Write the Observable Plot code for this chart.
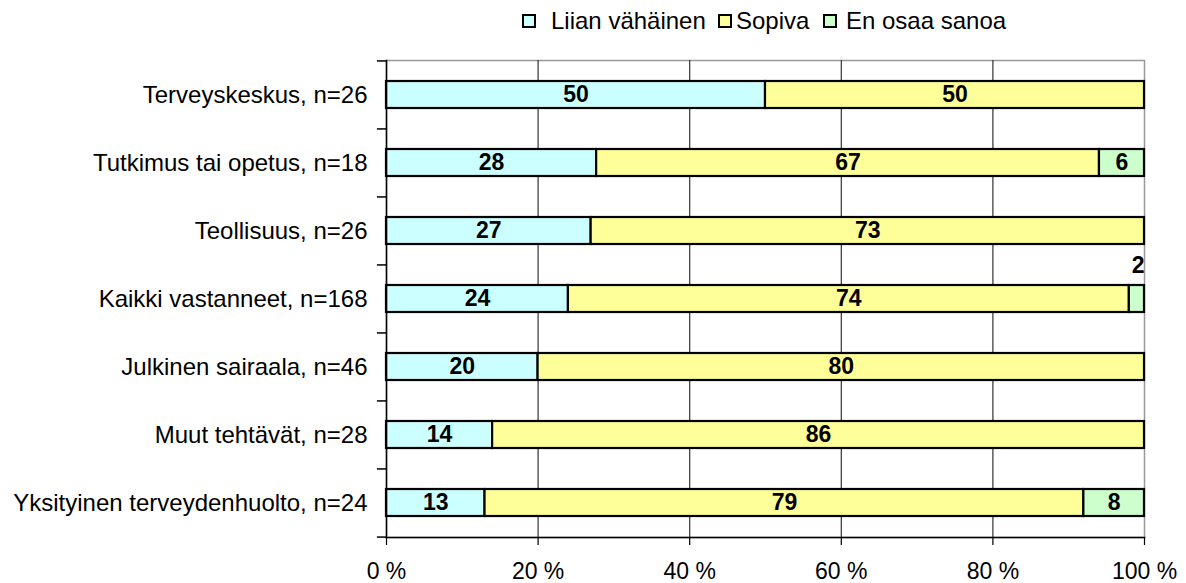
<!DOCTYPE html>
<html>
<head>
<meta charset="utf-8">
<script src="https://cdn.jsdelivr.net/npm/d3@7"></script>
<script src="https://cdn.jsdelivr.net/npm/@observablehq/plot@0.6"></script>
<style>
  body { margin: 0; background: #fff; font-family: "Liberation Sans", Arial, sans-serif; }
  #legend { position: relative; height: 40px; width: 1186px; font-size: 24px; color: #000; }
  .item { position: absolute; top: 7px; height: 28px; display: flex; align-items: center; white-space: nowrap; }
  .sw { display: inline-block; box-sizing: border-box; width: 14px; height: 14px; border: 2px solid #000; }
</style>
</head>
<body>
<div id="legend"></div>
<div id="chart"></div>
<script>
const categories = [
  "Terveyskeskus, n=26",
  "Tutkimus tai opetus, n=18",
  "Teollisuus, n=26",
  "Kaikki vastanneet, n=168",
  "Julkinen sairaala, n=46",
  "Muut tehtävät, n=28",
  "Yksityinen terveydenhuolto, n=24"
];
const seriesNames = ["Liian vähäinen", "Sopiva", "En osaa sanoa"];
const liian = [50, 28, 27, 24, 20, 14, 13];
const sopiva = [50, 67, 73, 74, 80, 86, 79];
const enOsaa = [0, 6, 0, 2, 0, 0, 8];
const colors = ["#CCFFFF", "#FFFF99", "#CCFFCC"];
const xTicks = [0, 20, 40, 60, 80, 100];

const values = [liian, sopiva, enOsaa];
// normalized 100% stacks
const rows = [];
categories.forEach((c, i) => {
  const total = liian[i] + sopiva[i] + enOsaa[i];
  let acc = 0;
  seriesNames.forEach((s, j) => {
    const v = values[j][i];
    if (v > 0) {
      rows.push({category: c, series: s, value: v, x1: acc / total * 100, x2: (acc + v) / total * 100});
    }
    acc += v;
  });
});
const inside = rows.filter(d => d.value >= 4);
const above = rows.filter(d => d.value < 4);

// legend
const legend = document.getElementById("legend");
const legendX = [522, 718, 823];
const gapAfter = [15, 4, 9];
seriesNames.forEach((s, j) => {
  const el = document.createElement("div");
  el.className = "item";
  el.style.left = legendX[j] + "px";
  el.innerHTML = `<span class="sw" style="background:${colors[j]};margin-right:${gapAfter[j]}px"></span><span>${s}</span>`;
  legend.appendChild(el);
});

const W = 1186, H = 543, mT = 20, mB = 46, mL = 386, mR = 42;
const step = (H - mT - mB) / categories.length;

const chart = Plot.plot({
  width: W,
  height: H,
  marginTop: mT,
  marginBottom: mB,
  marginLeft: mL,
  marginRight: mR,
  style: {fontFamily: "'Liberation Sans', Arial, sans-serif", fontSize: "24px", color: "#000", background: "#fff"},
  x: {domain: [0, 100], label: null},
  y: {domain: categories, paddingInner: 0.6, paddingOuter: 0.3, align: 0.5, label: null},
  color: {domain: seriesNames, range: colors},
  marks: [
    Plot.frame({stroke: "#999", strokeWidth: 1.5}),
    Plot.ruleX([20, 40, 60, 80], {stroke: "#333", strokeWidth: 1.2}),
    Plot.barX(rows, {x1: "x1", x2: "x2", y: "category", fill: "series", stroke: "#000", strokeWidth: 2.2}),
    Plot.text(inside, {x: d => (d.x1 + d.x2) / 2, y: "category", text: d => String(d.value),
      fontWeight: "bold", fontSize: 23, fill: "#000"}),
    Plot.text(above, {x: "x2", y: "category", text: d => String(d.value), textAnchor: "end",
      dy: -33, fontWeight: "bold", fontSize: 23, fill: "#000"}),
    Plot.frame({anchor: "left", stroke: "#000", strokeWidth: 1.5}),
    Plot.frame({anchor: "bottom", stroke: "#000", strokeWidth: 1.5}),
    Plot.ruleY(categories, {y: d => d, x1: -1.2, x2: 0, dy: -step / 2, stroke: "#000", strokeWidth: 1.5}),
    Plot.ruleY(categories.slice(-1), {y: d => d, x1: -1.2, x2: 0, dy: step / 2, stroke: "#000", strokeWidth: 1.5}),
    Plot.axisX({
      ticks: xTicks, tickFormat: d => d + " %", tickSize: 8, tickPadding: 17,
      fontSize: 23, stroke: "#000", strokeWidth: 1.2
    }),
    Plot.axisY({tickSize: 0, tickPadding: 19, fontSize: 24})
  ]
});
document.getElementById("chart").appendChild(chart);
</script>
</body>
</html>
